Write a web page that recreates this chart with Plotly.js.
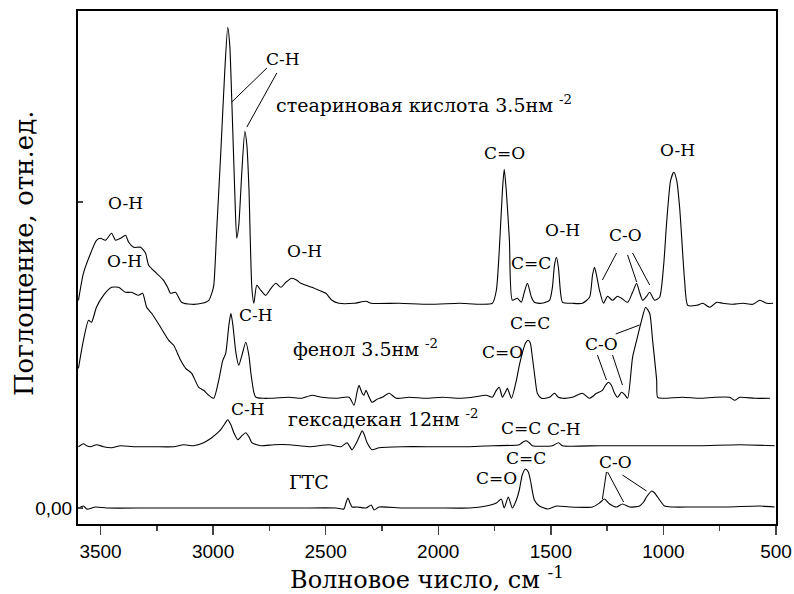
<!DOCTYPE html>
<html>
<head>
<meta charset="utf-8">
<script src="https://cdn.plot.ly/plotly-3.0.1.min.js"></script>
<style>html,body{margin:0;padding:0;background:#fff;}#chart{width:794px;height:594px;}</style>
</head>
<body>
<div id="chart"></div>
<script>
// Wavenumber (cm-1) and absorbance (relative units)
const stearicWn = [3598,3576,3544,3518,3500,3478,3451,3433,3411,3389,3375,3353,3322,3300,3286,3251,3220,3202,3189,3167,3140,3095,3050,3019,3006,2997,2984,2966,2948,2935,2926,2917,2904,2895,2886,2872,2859,2850,2841,2828,2819,2806,2788,2766,2743,2721,2699,2677,2650,2628,2610,2588,2561,2530,2499,2472,2441,2374,2321,2298,2174,2040,1907,1760,1742,1729,1715,1707,1698,1684,1671,1649,1631,1618,1604,1586,1573,1542,1506,1493,1484,1475,1466,1457,1448,1404,1360,1328,1315,1306,1297,1284,1266,1248,1226,1204,1186,1159,1137,1119,1106,1092,1075,1061,1039,1017,999,986,968,954,941,928,906,892,852,825,794,763,736,692,647,603,572,541,513];
const stearicAbs = [0.03,0.30,0.50,0.63,0.65,0.63,0.70,0.63,0.65,0.68,0.61,0.56,0.56,0.50,0.38,0.30,0.23,0.16,0.10,0.11,0.01,-0.01,0.00,0.03,0.10,0.18,0.73,1.50,2.33,2.76,2.58,2.03,1.13,0.65,0.78,1.33,1.72,1.58,1.16,0.16,0.00,0.18,0.13,0.08,0.15,0.20,0.16,0.21,0.25,0.23,0.20,0.18,0.16,0.13,0.10,0.03,0.00,0.00,0.02,0.00,0.00,-0.01,0.00,0.00,0.13,0.53,1.13,1.34,1.13,0.63,0.03,0.05,0.01,0.11,0.20,0.06,0.01,0.00,0.03,0.16,0.38,0.46,0.35,0.11,0.01,0.00,0.00,0.06,0.28,0.36,0.28,0.13,0.00,0.07,0.03,0.07,0.05,0.01,0.11,0.20,0.11,0.03,0.07,0.11,0.03,0.06,0.38,0.80,1.23,1.31,1.23,0.96,0.23,-0.02,-0.02,0.00,-0.04,0.01,0.00,-0.01,0.00,-0.01,0.03,0.00,0.00];

const phenolWn = [3598,3576,3553,3540,3518,3487,3451,3420,3389,3362,3331,3313,3295,3273,3233,3197,3175,3144,3122,3095,3064,3042,3019,2997,2975,2957,2944,2930,2921,2912,2899,2886,2872,2855,2841,2832,2819,2810,2775,2752,2663,2606,2561,2517,2454,2396,2374,2361,2352,2338,2330,2321,2307,2294,2272,2249,2218,2187,2129,2054,1982,1907,1849,1787,1760,1742,1729,1715,1702,1693,1675,1653,1640,1627,1613,1600,1591,1582,1569,1560,1542,1506,1484,1466,1448,1404,1360,1328,1297,1271,1257,1244,1231,1217,1204,1186,1173,1159,1137,1119,1097,1079,1061,1048,1030,1026,1004,915,839,772,706,683,661,594,527];
const phenolAbs = [0.30,0.58,0.78,0.76,0.91,1.03,1.11,1.11,1.06,1.06,1.03,1.05,0.91,0.85,0.71,0.58,0.53,0.38,0.30,0.25,0.11,0.08,0.03,0.00,0.18,0.38,0.45,0.73,0.85,0.73,0.46,0.33,0.43,0.56,0.43,0.25,0.06,0.01,0.00,0.00,0.01,0.00,0.03,0.01,0.00,0.01,-0.07,0.06,0.13,0.05,0.03,0.08,0.01,-0.04,-0.01,0.01,0.05,0.00,0.01,0.00,0.01,0.00,0.01,0.03,0.01,0.08,0.11,0.01,0.06,0.10,0.00,0.18,0.33,0.45,0.55,0.58,0.55,0.41,0.18,0.05,0.00,0.01,0.05,0.01,0.00,0.01,0.05,0.00,0.05,0.08,0.13,0.16,0.13,0.05,0.01,0.06,0.04,0.00,0.41,0.58,0.78,0.91,0.85,0.58,0.18,0.01,0.00,0.01,0.00,0.01,0.01,-0.02,0.01,0.00,0.00];

const hexWn = [3598,3576,3562,3544,3518,3487,3451,3411,3353,3264,3175,3131,3086,3042,3006,2984,2966,2948,2935,2921,2908,2890,2872,2855,2841,2828,2788,2730,2663,2574,2485,2432,2405,2383,2361,2347,2338,2330,2316,2294,2263,2161,2009,1862,1760,1640,1622,1609,1596,1582,1493,1466,1448,1284,1061,839,661,506];
const hexAbs = [-0.01,0.02,0.00,-0.01,0.01,-0.01,-0.02,0.00,-0.01,-0.01,-0.01,0.01,0.00,0.03,0.08,0.12,0.16,0.22,0.26,0.21,0.13,0.06,0.10,0.13,0.09,0.03,0.00,0.01,0.01,-0.01,0.01,-0.01,0.03,-0.04,0.04,0.11,0.15,0.12,0.03,-0.04,-0.02,-0.01,-0.01,-0.01,0.00,0.01,0.04,0.05,0.03,0.00,0.00,0.03,0.00,0.00,0.00,0.00,0.01,0.00];

const gtsWn = [3598,3576,3562,3553,3522,3473,3286,3064,2841,2619,2454,2419,2410,2401,2392,2383,2361,2321,2298,2285,2263,2161,2009,1862,1787,1742,1720,1707,1689,1671,1653,1640,1627,1613,1600,1591,1573,1551,1515,1475,1417,1315,1284,1262,1239,1208,1182,1150,1106,1088,1075,1052,1039,1026,995,959,870,719,572,506];
const gtsAbs = [0.00,0.02,-0.01,-0.01,0.01,0.00,0.00,0.00,0.00,0.00,0.00,-0.01,0.05,0.10,0.05,0.01,0.01,0.00,0.03,-0.02,0.01,0.00,0.00,0.00,0.02,0.05,0.09,0.00,0.11,0.00,0.08,0.18,0.33,0.39,0.36,0.28,0.08,0.02,-0.01,0.02,0.01,0.01,0.05,0.09,0.04,0.01,0.04,0.01,0.02,0.06,0.11,0.17,0.15,0.11,0.02,0.01,0.01,0.01,0.02,0.01];

// vertical offsets of the stacked spectra
const seriesNames = ["стеариновая кислота 3.5нм <sup>-2</sup>", "фенол 3.5нм <sup>-2</sup>", "гексадекан 12нм <sup>-2</sup>", "ГТС"];
const seriesOffsets = [2.047, 1.097, 0.623, 0];

const xTickVals = [3500, 3000, 2500, 2000, 1500, 1000, 500];
const yTickVals = [0, 3.06];
const yTickText = ["0,00", ""];
const xTitle = 'Волновое число, см <sup>-1</sup>';
const yTitle = 'Поглощение, отн.ед.';

const allWn = [stearicWn, phenolWn, hexWn, gtsWn];
const allAbs = [stearicAbs, phenolAbs, hexAbs, gtsAbs];

const traces = allWn.map((wn, i) => ({
  x: wn,
  y: allAbs[i].map(v => v + seriesOffsets[i]),
  type: 'scatter', mode: 'lines', name: seriesNames[i],
  line: {color: '#000', width: 1.1, shape: 'spline', smoothing: 0.6},
  hoverinfo: 'skip'
}));

// Peak labels: [text, wavenumber, y]
const peakLabels = [
  ["O-H", 3389, 3.05], ["C-H", 2690, 4.49], ["O-H", 2592, 2.57], ["C=O", 1707, 3.55],
  ["O-H", 1448, 2.78], ["C=C", 1586, 2.45], ["C-O", 1168, 2.73], ["O-H", 937, 3.58],
  ["O-H", 3393, 2.47], ["C-H", 2810, 1.93], ["C=C", 1591, 1.85], ["C=O", 1715, 1.56], ["C-O", 1275, 1.64],
  ["C-H", 2846, 0.99], ["C=C", 1632, 0.80], ["C-H", 1440, 0.79],
  ["C=C", 1609, 0.50], ["C=O", 1742, 0.30], ["C-O", 1213, 0.46]
];
// Leader lines: [x0, y0, x1, y1]
const leaders = [
  [2761, 4.40, 2917, 4.06], [2717, 4.35, 2850, 3.81],
  [1208, 2.55, 1271, 2.28], [1159, 2.53, 1119, 2.26], [1137, 2.55, 1061, 2.23],
  [1293, 1.53, 1253, 1.28], [1226, 1.53, 1182, 1.23], [1212, 1.74, 1106, 1.83],
  [1253, 0.36, 1271, 0.09], [1248, 0.36, 1177, 0.06], [1182, 0.33, 1075, 0.17]
];
// Sample label positions: [wavenumber of left edge, y]
const sampleLabelPos = [[2730, 4.04], [2654, 1.60], [2677, 0.90], [2672, 0.26]];

const serif = 'DejaVu Serif';
const sans = 'Liberation Sans';
const annotations = peakLabels.map(p => ({
  text: p[0], x: p[1], y: p[2], xref: 'x', yref: 'y', showarrow: false,
  font: {family: serif, size: 17, color: '#000'}, xanchor: 'center', yanchor: 'middle'
})).concat(sampleLabelPos.map((p, i) => ({
  text: seriesNames[i], x: p[0], y: p[1], xref: 'x', yref: 'y', showarrow: false,
  font: {family: serif, size: 19, color: '#000'}, xanchor: 'left', yanchor: 'middle'
}))).concat([{
  text: yTitle, textangle: -90, xref: 'paper', yref: 'paper', x: -0.0774, y: 0.528,
  xanchor: 'center', yanchor: 'middle', showarrow: false,
  font: {family: serif, size: 26, color: '#000'}
}]);

const shapes = leaders.map(l => ({
  type: 'line', xref: 'x', yref: 'y', x0: l[0], y0: l[1], x1: l[2], y1: l[3],
  line: {color: '#000', width: 1}
}));

const layout = {
  width: 794, height: 594,
  margin: {l: 78, r: 18, t: 11, b: 70},
  paper_bgcolor: '#fff', plot_bgcolor: '#fff',
  showlegend: false,
  xaxis: {
    range: [3600, 500], tickvals: xTickVals, ticks: 'outside', ticklen: 9, tickwidth: 1.5,
    minor: {dtick: 250, ticks: 'outside', ticklen: 5, tickwidth: 1.5, showgrid: false},
    showline: true, linewidth: 2, linecolor: '#000', mirror: true, showgrid: false, zeroline: false,
    tickfont: {family: sans, size: 19, color: '#000'},
    title: {text: xTitle, font: {family: serif, size: 24, color: '#000'}, standoff: 7}
  },
  yaxis: {
    range: [-0.16, 4.97], tickvals: yTickVals, ticktext: yTickText, ticks: 'inside', ticklen: 5, tickwidth: 1.5,
    showline: true, linewidth: 2, linecolor: '#000', mirror: true, showgrid: false, zeroline: false,
    tickfont: {family: sans, size: 19, color: '#000'}
  },
  annotations: annotations,
  shapes: shapes
};

Plotly.newPlot('chart', traces, layout, {displayModeBar: false, staticPlot: true});
</script>
</body>
</html>
